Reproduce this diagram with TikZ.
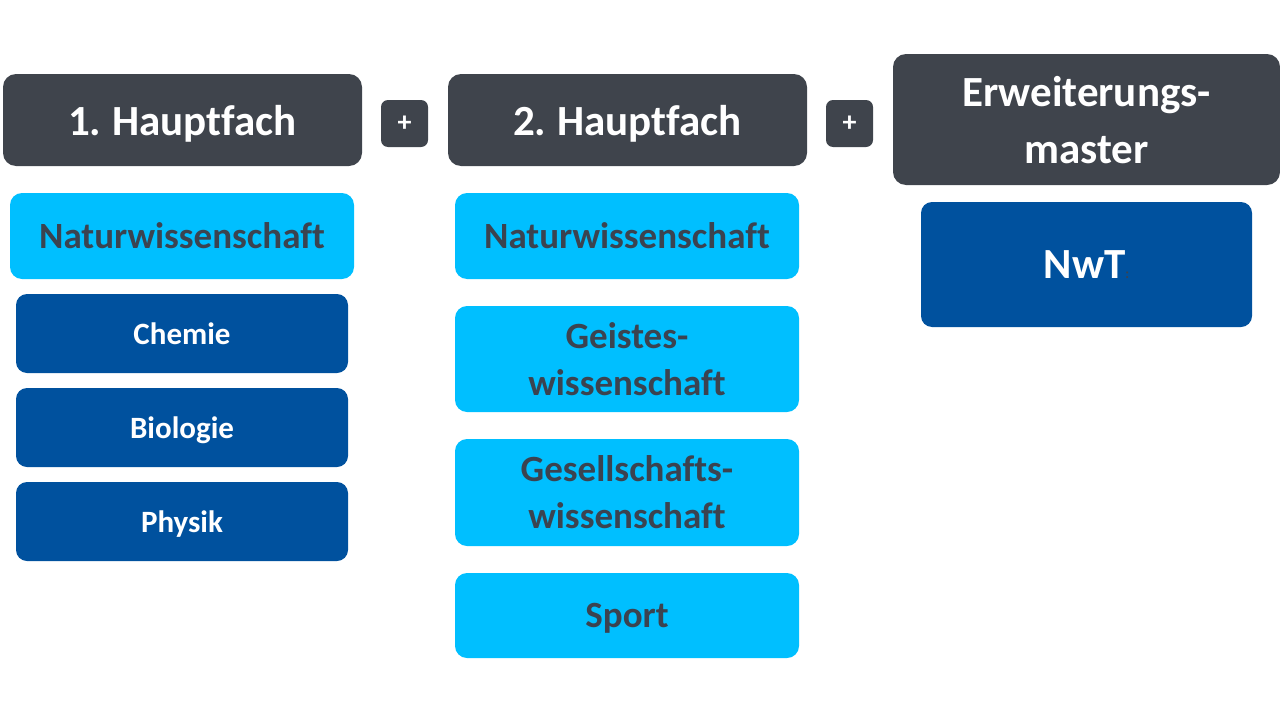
\documentclass[tikz,border=0pt]{standalone}
\usepackage{fontspec}
\setmainfont{Carlito}[Ligatures=NoCommon, WordSpace=0.8]
\definecolor{kopfgrau}{HTML}{3F444C}
\definecolor{hellblau}{HTML}{00BFFF}
\definecolor{dunkelblau}{HTML}{00519E}
\definecolor{schrift}{HTML}{3B4350}
\tikzset{
  kopf/.style={fill=kopfgrau, text=white, rounded corners=13pt, inner sep=0pt, align=center,
    text depth=0pt, font=\bfseries\fontsize{43}{57}\selectfont},
  plus/.style={fill=kopfgrau, text=white, rounded corners=7pt, inner sep=0pt,
    minimum width=47pt, minimum height=47pt, font=\bfseries\fontsize{28}{30}\selectfont},
  fach/.style={fill=hellblau, text=schrift, rounded corners=12pt, inner sep=0pt, align=center,
    text depth=0pt, minimum width=344pt, font=\bfseries\fontsize{37}{47}\selectfont},
  unter/.style={fill=dunkelblau, text=white, rounded corners=11pt, inner sep=0pt,
    text depth=0pt, minimum width=332pt, minimum height=79pt, font=\bfseries\fontsize{31}{36}\selectfont}
}
\begin{document}
\begin{tikzpicture}[x=1pt, y=-1pt]
  \useasboundingbox (0,0) rectangle (1280,720);
  % Kopfzeile
  \node[kopf, minimum width=359pt, minimum height=92pt] (haupt1) at (182.5,120) {1. Hauptfach};
  \node[plus] (plus1) at (404.5,123.5) {+};
  \node[kopf, minimum width=359pt, minimum height=92pt] (haupt2) at (627.5,120) {2. Hauptfach};
  \node[plus] (plus2) at (849.5,123.5) {+};
  \node[kopf, minimum width=387pt, minimum height=131pt] (erw) at (1086.5,119.5) {Erweiterungs-\\master};
  % Spalte 1
  \node[fach, minimum height=86pt] (nw1) at (182,236) {Naturwissenschaft};
  \foreach \y/\t [count=\i] in {333.5/Chemie, 427.5/Biologie, 521.5/Physik}
    \node[unter] (u\i) at (182,\y) {\t};
  % Spalte 2
  \foreach \y/\h/\t [count=\i] in {236/86/Naturwissenschaft, 359/106/{Geistes-\\wissenschaft},
      492.5/107/{Gesellschafts-\\wissenschaft}, 615.5/85/Sport}
    \node[fach, minimum height=\h pt] (f\i) at (627,\y) {\t};
  % Spalte 3
  \node[unter, minimum width=331pt, minimum height=125pt, font=\bfseries\fontsize{43}{50}\selectfont]
    (nwt) at (1086.5,264.5) {NwT\textcolor{schrift}{\fontsize{14}{14}\selectfont:}};
\end{tikzpicture}
\end{document}
